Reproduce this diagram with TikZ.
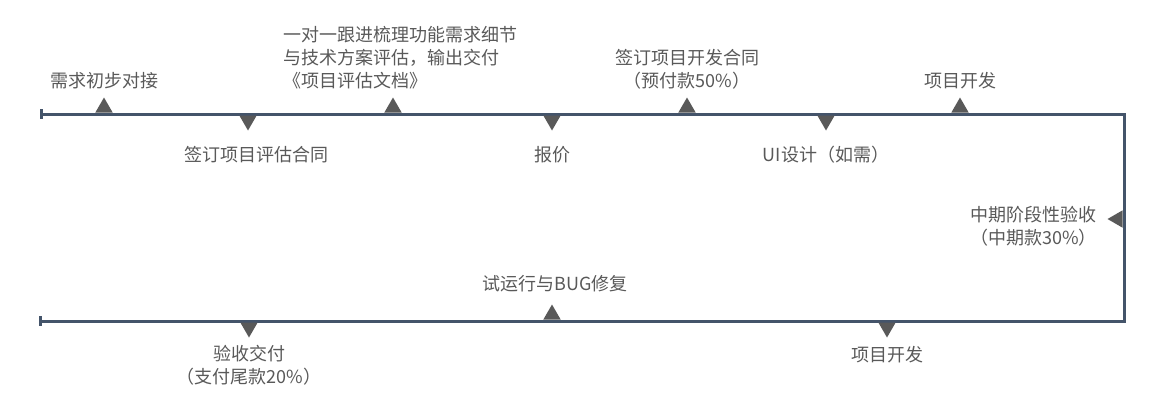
\documentclass[tikz,border=0pt]{standalone}
\usepackage{fontspec}
\setmainfont{Noto Sans CJK SC}
\usetikzlibrary{positioning,shapes.geometric}
\definecolor{linegray}{HTML}{44546A}
\definecolor{markgray}{HTML}{595959}
\tikzstyle{tline} = [line width=3pt, draw=linegray]
\tikzstyle{mkup} = [regular polygon, regular polygon sides=3, minimum size=20pt, inner sep=0pt, fill=markgray]
\tikzstyle{mkdown} = [mkup, shape border rotate=180]
\tikzstyle{mkleft} = [mkup, shape border rotate=90]
\tikzstyle{txt} = [text=markgray, font=\fontsize{18}{23}\selectfont, align=center, inner sep=0pt]

\begin{document}
\begin{tikzpicture}[x=1pt,y=-1pt,node distance=27pt]
\useasboundingbox (0,0) rectangle (1161,413);
% timeline
\coordinate (s) at (41,114);
\coordinate (c1) at (1124,114);
\coordinate (c2) at (1124,321);
\coordinate (e) at (40,321);
\draw [tline] (s) -- (c1) -- (c2) -- (e);
\draw [tline] ([yshift=5pt]s) -- ([yshift=-5pt]s);
\draw [tline] ([yshift=5pt]e) -- ([yshift=-5pt]e);
% markers
\node (m1) [mkup] at (104,107.5) {};
\node (m2) [mkdown] at (248,120.5) {};
\node (m3) [mkup] at (393,107.5) {};
\node (m4) [mkdown] at (552,120.5) {};
\node (m5) [mkup] at (687,107.5) {};
\node (m6) [mkdown] at (826,120.5) {};
\node (m7) [mkup] at (960,107.5) {};
\node (m8) [mkleft] at (1117.5,219) {};
\node (m9) [mkup] at (552,314.5) {};
\node (m10) [mkdown] at (249,327.5) {};
\node (m11) [mkdown] at (887,327.5) {};
% labels
\node (t1) [txt,above of=m1] {需求初步对接};
\node (t2) [txt,below of=m2,xshift=8pt,yshift=-7pt] {签订项目评估合同};
\node (t3) [txt,above of=m3,xshift=7pt,yshift=23pt,align=left] {一对一跟进梳理功能需求细节\\与技术方案评估，输出交付\\《项目评估文档》};
\node (t4) [txt,below of=m4,yshift=-7pt] {报价};
\node (t5) [txt,above of=m5,yshift=11pt] {签订项目开发合同\\（预付款50\%）};
\node (t6) [txt,below of=m6,yshift=-7pt] {UI设计（如需）};
\node (t7) [txt,above of=m7] {项目开发};
\node (t8) [txt,left of=m8,xshift=-57pt,yshift=-7pt] {中期阶段性验收\\（中期款30\%）};
\node (t9) [txt,above of=m9,xshift=3pt,yshift=4pt] {试运行与BUG修复};
\node (t10) [txt,below of=m10,yshift=-11pt] {验收交付\\（支付尾款20\%）};
\node (t11) [txt,below of=m11] {项目开发};
\end{tikzpicture}
\end{document}
